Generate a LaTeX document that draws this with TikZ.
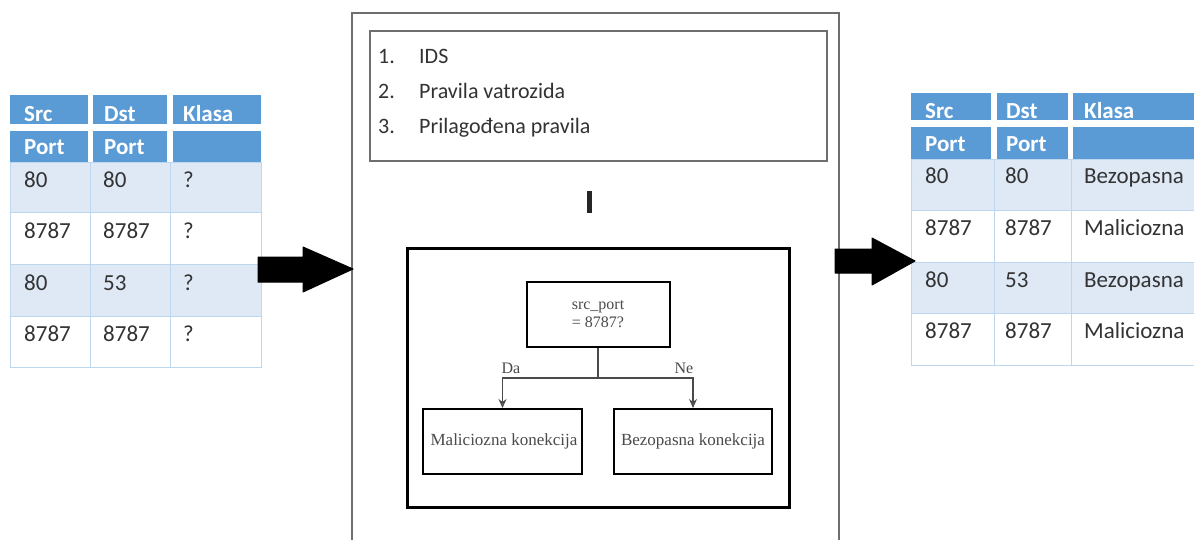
\documentclass[tikz,border=0pt]{standalone}
\usepackage{fontspec}
\setmainfont{Carlito}
\newfontfamily\serifface{Liberation Serif}
\usetikzlibrary{arrows.meta}
\definecolor{hdrblue}{HTML}{5B9BD5}
\definecolor{rowblue}{HTML}{DEE9F5}
\definecolor{gridblue}{HTML}{BDD7EE}
\definecolor{celltext}{HTML}{333333}
\definecolor{boxgray}{HTML}{6E6E6E}
\definecolor{flowgray}{HTML}{4A4A4A}
\tikzset{
  hdrtext/.style={font=\fontsize{23}{26}\selectfont\bfseries, text=white, anchor=base west, inner sep=0pt},
  celltxt/.style={font=\fontsize{23}{26}\selectfont, text=celltext, anchor=base west, inner sep=0pt},
  listtxt/.style={font=\fontsize{22}{26}\selectfont, text=celltext, anchor=base west, inner sep=0pt},
  flowbox/.style={draw=black, line width=2pt, fill=white, inner sep=0pt},
  flowtxt/.style={font=\serifface\fontsize{16}{18}\selectfont, text=flowgray, align=center, inner sep=0pt},
  flowarrow/.style={draw=flowgray, line width=1.3pt, -{Stealth[length=9pt,width=8pt,open]}},
  fatarrow/.style={fill=black, draw=black, line width=1pt, line join=round},
}
\begin{document}
\begin{tikzpicture}[x=1pt,y=-1pt]
\useasboundingbox (0,0) rectangle (1194,539);
\clip (0,0) rectangle (1194,539);
\fill[white] (0,0) rectangle (1194,539);

% ---------- left table ----------
\fill[rowblue] (10,162) rectangle (261,212);
\fill[rowblue] (10,264) rectangle (261,316);
\draw[gridblue, line width=1pt] (10,162) rectangle (261,367);
\foreach \yy in {212,264,316} \draw[gridblue, line width=1pt] (10,\yy) -- (261,\yy);
\foreach \xx in {90,170} \draw[gridblue, line width=1pt] (\xx,162) -- (\xx,367);
\foreach \xa/\xb in {10/88, 93/167, 173/261} {
  \fill[hdrblue] (\xa,95) rectangle (\xb,124);
  \fill[hdrblue] (\xa,131) rectangle (\xb,162);
}
\node[hdrtext] (lh1) at (24,121) {Src};
\node[hdrtext] (lh2) at (104,121) {Dst};
\node[hdrtext] (lh3) at (183,121) {Klasa};
\node[hdrtext] (lp1) at (24,154) {Port};
\node[hdrtext] (lp2) at (104,154) {Port};
\node[celltxt] (l11) at (24,187) {80};
\node[celltxt] (l12) at (103,187) {80};
\node[celltxt] (l13) at (183,187) {?};
\node[celltxt] (l21) at (24,238) {8787};
\node[celltxt] (l22) at (103,238) {8787};
\node[celltxt] (l23) at (183,238) {?};
\node[celltxt] (l31) at (24,290) {80};
\node[celltxt] (l32) at (103,290) {53};
\node[celltxt] (l33) at (183,290) {?};
\node[celltxt] (l41) at (24,341) {8787};
\node[celltxt] (l42) at (103,341) {8787};
\node[celltxt] (l43) at (183,341) {?};

% ---------- right table ----------
\fill[rowblue] (911,159) rectangle (1200,210);
\fill[rowblue] (911,262) rectangle (1200,313);
\draw[gridblue, line width=1pt] (911,159) rectangle (1200,365);
\foreach \yy in {210,262,313} \draw[gridblue, line width=1pt] (911,\yy) -- (1200,\yy);
\foreach \xx in {994,1071} \draw[gridblue, line width=1pt] (\xx,159) -- (\xx,365);
\foreach \xa/\xb in {911/991, 997/1068, 1073/1200} {
  \fill[hdrblue] (\xa,93) rectangle (\xb,120);
  \fill[hdrblue] (\xa,127) rectangle (\xb,159);
}
\node[hdrtext] (rh1) at (925,118) {Src};
\node[hdrtext] (rh2) at (1006,118) {Dst};
\node[hdrtext] (rh3) at (1084,118) {Klasa};
\node[hdrtext] (rp1) at (925,151) {Port};
\node[hdrtext] (rp2) at (1006,151) {Port};
\node[celltxt] (r11) at (925,183) {80};
\node[celltxt] (r12) at (1005,183) {80};
\node[celltxt] (r13) at (1084,183) {Bezopasna};
\node[celltxt] (r21) at (925,235) {8787};
\node[celltxt] (r22) at (1005,235) {8787};
\node[celltxt] (r23) at (1084,235) {Maliciozna};
\node[celltxt] (r31) at (925,287) {80};
\node[celltxt] (r32) at (1005,287) {53};
\node[celltxt] (r33) at (1084,287) {Bezopasna};
\node[celltxt] (r41) at (925,338) {8787};
\node[celltxt] (r42) at (1005,338) {8787};
\node[celltxt] (r43) at (1084,338) {Maliciozna};

% ---------- middle frame ----------
\draw[boxgray, line width=1.4pt] (352,560) -- (352,13) -- (839,13) -- (839,560);
\draw[boxgray, line width=1.3pt] (370,31) rectangle (827,161);
\node[listtxt] (n1) at (378,63) {1.};
\node[listtxt] (i1) at (419,63) {IDS};
\node[listtxt] (n2) at (378,98) {2.};
\node[listtxt] (i2) at (419,98) {Pravila vatrozida};
\node[listtxt] (n3) at (378,133) {3.};
\node[listtxt] (i3) at (419,133) {Prilagođena pravila};
\fill[black!85] (587,191) rectangle (592,213);

% ---------- flow chart ----------
\draw[black, line width=3pt] (407,248) rectangle (789,507);
\node[flowbox, minimum width=143pt, minimum height=65pt] (dec) at (598,314.5) {};
\node[flowtxt] (dectxt) at (598,314.5) {src\_port\\= 8787?};
\node[flowbox, minimum width=159pt, minimum height=65pt] (mal) at (502.5,441.5) {};
\node[flowtxt, font=\serifface\fontsize{17}{19}\selectfont] (maltxt) at (504,441) {Maliciozna konekcija};
\node[flowbox, minimum width=158pt, minimum height=65pt] (bez) at (693,441.5) {};
\node[flowtxt, font=\serifface\fontsize{17}{19}\selectfont] (beztxt) at (693,441) {Bezopasna konekcija};
\coordinate (split) at (598,378);
\draw[flowgray, line width=1.3pt] (dec.south) -- (split);
\draw[flowarrow] (split) -| (mal.north);
\draw[flowarrow] (split) -| (bez.north);
\node[flowtxt] (da) at (511,368) {Da};
\node[flowtxt] (ne) at (684,368) {Ne};

% ---------- big arrows ----------
\coordinate (lt) at (353,269);
\draw[fatarrow] (258,257) -- (303,257) -- (303,247) -- (lt) -- (303,292) -- (303,282) -- (258,282) -- cycle;
\coordinate (rt) at (915,261);
\draw[fatarrow] (835,249) -- (872,249) -- (872,238) -- (rt) -- (872,285) -- (872,273) -- (835,273) -- cycle;
\end{tikzpicture}
\end{document}
